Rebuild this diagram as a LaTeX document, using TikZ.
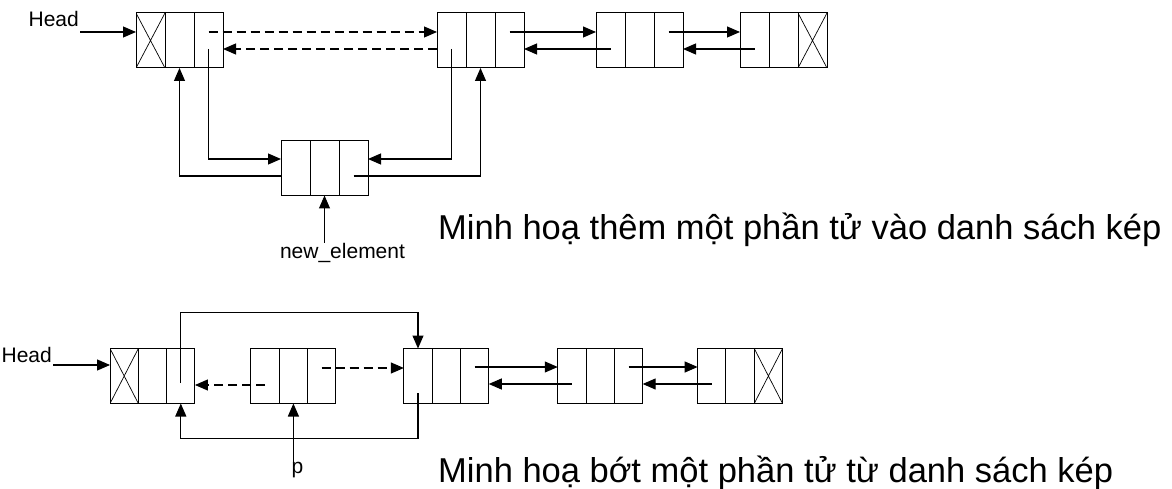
\documentclass[tikz,border=0pt]{standalone}
\usepackage{fontspec}
\setmainfont{Liberation Sans}
\usetikzlibrary{arrows.meta,positioning,calc}

\begin{document}
\begin{tikzpicture}[x=1pt,y=1pt,
  cell/.style={draw,line width=1pt,minimum width=29pt,minimum height=55pt,
               inner sep=0pt,outer sep=0pt},
  xcell/.style={cell,path picture={
      \draw[line width=0.7pt]
        (path picture bounding box.north west) -- (path picture bounding box.south east)
        (path picture bounding box.south west) -- (path picture bounding box.north east);}},
  lbl/.style={font=\fontsize{21}{25}\selectfont,inner sep=1pt},
  capt/.style={font=\fontsize{34.5}{40}\selectfont,inner sep=0pt,anchor=base west},
  arr/.style={-{Triangle[length=13pt,width=11pt]},line width=1.1pt},
  darr/.style={arr,dash pattern=on 9pt off 5pt},
]
  \useasboundingbox (0,0) rectangle (1172,-489);

  % insert
  \node[xcell] (a1) at (150.5,-40.5) {};
  \node[cell,right=0pt of a1] (a2) {};
  \node[cell,right=0pt of a2] (a3) {};
  \node[cell,right=214pt of a3] (b1) {};
  \node[cell,right=0pt of b1] (b2) {};
  \node[cell,right=0pt of b2] (b3) {};
  \node[cell,right=72pt of b3] (c1) {};
  \node[cell,right=0pt of c1] (c2) {};
  \node[cell,right=0pt of c2] (c3) {};
  \node[cell,right=57pt of c3] (d1) {};
  \node[cell,right=0pt of d1] (d2) {};
  \node[xcell,right=0pt of d2] (d3) {};
  \node[cell] (new1) at (295.5,-168) {};
  \node[cell,right=0pt of new1] (new2) {};
  \node[cell,right=0pt of new2] (new3) {};

  \node[lbl,anchor=base east] (headA) at ($(a1.west)+(-56,13.5)$) {Head};
  \node[lbl,below=47pt of new2,xshift=18pt] (newel) {new\_element};
  \node[capt] (capAdd) at (438,-239) {Minh hoạ thêm một phần tử vào danh sách kép};

  \draw[arr] ([yshift=-5pt]headA.base east) -- ([yshift=8.5pt]a1.west);
  \draw[darr] ([yshift=8.5pt]a3.center) -- ([yshift=8.5pt]b1.west);
  \draw[darr] ([yshift=-8.5pt]b1.west) -- ([yshift=-8.5pt]a3.east);
  \draw[arr] ([yshift=-8.5pt]a3.center) |- ([yshift=9pt]new1.west);
  \draw[arr] ([yshift=-8.5pt]b1.center) |- ([yshift=9pt]new3.east);
  \draw[arr] ([yshift=-8pt]new1.west) -| (a2.south);
  \draw[arr] ([yshift=-8pt]new3.center) -| (b2.south);
  \draw[arr] (newel.north -| new2.south) -- (new2.south);
  \draw[arr] ([yshift=8.5pt]b3.center) -- ([yshift=8.5pt]c1.west);
  \draw[arr] ([yshift=-8.5pt]c1.center) -- ([yshift=-8.5pt]b3.east);
  \draw[arr] ([yshift=8.5pt]c3.center) -- ([yshift=8.5pt]d1.west);
  \draw[arr] ([yshift=-8.5pt]d1.center) -- ([yshift=-8.5pt]c3.east);

  % delete
  \begin{scope}[cell/.append style={minimum width=28.3pt}]
  \node[xcell] (e1) at (124.2,-376) {};
  \node[cell,right=0pt of e1] (e2) {};
  \node[cell,right=0pt of e2] (e3) {};
  \node[cell,right=56pt of e3] (del1) {};
  \node[cell,right=0pt of del1] (del2) {};
  \node[cell,right=0pt of del2] (del3) {};
  \node[cell,right=68pt of del3] (f1) {};
  \node[cell,right=0pt of f1] (f2) {};
  \node[cell,right=0pt of f2] (f3) {};
  \node[cell,right=69pt of f3] (g1) {};
  \node[cell,right=0pt of g1] (g2) {};
  \node[cell,right=0pt of g2] (g3) {};
  \node[cell,right=55pt of g3] (h1) {};
  \node[cell,right=0pt of h1] (h2) {};
  \node[xcell,right=0pt of h2] (h3) {};
  \end{scope}

  \node[lbl,anchor=base east] (headB) at ($(e1.west)+(-57,14)$) {Head};
  \node[lbl,below=58pt of del2,xshift=4pt] (plbl) {p};
  \node[capt] (capDel) at (438,-482) {Minh hoạ bớt một phần tử từ danh sách kép};

  \draw[arr] ([yshift=-3pt]headB.base east) -- ([yshift=11pt]e1.west);
  \draw[arr] ([yshift=-7pt]e3.center) |- ($(f1.north)+(0,36)$) -- (f1.north);
  \draw[arr] ([yshift=-17pt]f1.center) |- ($(e3.south)+(0,-35)$) -- (e3.south);
  \draw[darr] ([yshift=-9pt]del1.center) -- ([yshift=-9pt]e3.east);
  \draw[darr] ([yshift=8pt]del3.center) -- ([yshift=8pt]f1.west);
  \draw[arr] (plbl.north -| del2.south) -- (del2.south);
  \draw[arr] ([yshift=9pt]f3.center) -- ([yshift=9pt]g1.west);
  \draw[arr] ([yshift=-8pt]g1.center) -- ([yshift=-8pt]f3.east);
  \draw[arr] ([yshift=9pt]g3.center) -- ([yshift=9pt]h1.west);
  \draw[arr] ([yshift=-8pt]h1.center) -- ([yshift=-8pt]g3.east);
\end{tikzpicture}
\end{document}
